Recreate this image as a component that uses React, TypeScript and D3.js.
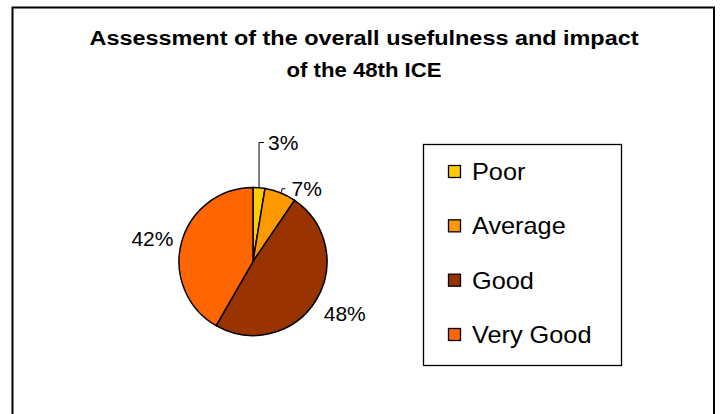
import React from "react";
import * as d3 from "d3";

const categories = ["Poor", "Average", "Good", "Very Good"];
const values = [2.6, 6.9, 48.8, 41.7];
const valueLabels = ["3%", "7%", "48%", "42%"];
const colors = ["#FFCC00", "#FF9900", "#993300", "#FF6600"];
const titleLines = ["Assessment of the overall usefulness and impact", "of the 48th ICE"];

const FONT = "'Liberation Sans', Arial, sans-serif";

export default function App() {
  const W = 720;
  const H = 414;
  const cx = 253;
  const cy = 261.5;
  const r = 74;

  const pie = d3.pie<number>().sort(null).value((d) => d).startAngle(0).endAngle(2 * Math.PI);
  const arcs = pie(values);
  const arcGen = d3.arc<d3.PieArcDatum<number>>().innerRadius(0).outerRadius(r);
  const labelArc = d3.arc<d3.PieArcDatum<number>>().innerRadius(100).outerRadius(100);
  const edgeArc = d3.arc<d3.PieArcDatum<number>>().innerRadius(r).outerRadius(r);

  const legendY = d3.scaleLinear().domain([0, 3]).range([172, 335]);

  const labels = arcs.map((a, i) => {
    const [ex, ey] = edgeArc.centroid(a);
    if (i === 0) {
      const top = -r - 45;
      return (
        <g key={i}>
          <polyline
            points={`${ex},${ey} ${ex},${top} ${ex + 5},${top}`}
            fill="none"
            stroke="#000"
            strokeWidth={1}
          />
          <text x={ex + 9} y={top + 7.5} fontSize={21} fontFamily={FONT} fill="#000">
            {valueLabels[i]}
          </text>
        </g>
      );
    }
    if (i === 1) {
      return (
        <g key={i}>
          <polyline
            points={`${ex + 1},${ey} ${ex + 1.5},${ey - 4} ${ex + 5},${ey - 4}`}
            fill="none"
            stroke="#000"
            strokeWidth={1}
          />
          <text x={ex + 11} y={ey + 3} fontSize={21} fontFamily={FONT} fill="#000">
            {valueLabels[i]}
          </text>
        </g>
      );
    }
    const [lx, ly] = labelArc.centroid(a);
    const adj = i === 2 ? [7, -1] : [-4, 3];
    return (
      <text
        key={i}
        x={lx + adj[0]}
        y={ly + adj[1] + 7.5}
        textAnchor="middle"
        fontSize={21}
        fontFamily={FONT}
        fill="#000"
      >
        {valueLabels[i]}
      </text>
    );
  });

  return (
    <div style={{ position: "absolute", left: 0, top: 0 }}>
      <svg width={W} height={H} style={{ display: "block", background: "#fff" }}>
        <rect x={0} y={0} width={W} height={H} fill="#fff" />
        <path d={`M12.5,${H + 5} V7.5 H714 V${H + 5}`} fill="none" stroke="#000" strokeWidth={2} />
        <text
          x={364}
          y={45}
          textAnchor="middle"
          fontSize={20}
          fontWeight="bold"
          fontFamily={FONT}
          textLength={549}
          lengthAdjust="spacingAndGlyphs"
        >
          {titleLines[0]}
        </text>
        <text
          x={364}
          y={77}
          textAnchor="middle"
          fontSize={20}
          fontWeight="bold"
          fontFamily={FONT}
          textLength={155}
          lengthAdjust="spacingAndGlyphs"
        >
          {titleLines[1]}
        </text>
        <g transform={`translate(${cx},${cy})`}>
          {arcs.map((a, i) => (
            <path key={i} d={arcGen(a) || ""} fill={colors[i]} stroke="#000" strokeWidth={1.5} />
          ))}
          {labels}
        </g>
        <rect x={423.5} y={144.5} width={198} height={221} fill="#fff" stroke="#000" strokeWidth={1.3} />
        {categories.map((c, i) => (
          <g key={c}>
            <rect
              x={448.5}
              y={legendY(i) - 6.5}
              width={12}
              height={12}
              fill={colors[i]}
              stroke="#000"
              strokeWidth={1.3}
            />
            <text
              x={0}
              y={0}
              transform={`translate(472,${legendY(i) + 8}) scale(1.1,1)`}
              fontSize={23}
              fontFamily={FONT}
              fill="#000"
            >
              {c}
            </text>
          </g>
        ))}
      </svg>
    </div>
  );
}
